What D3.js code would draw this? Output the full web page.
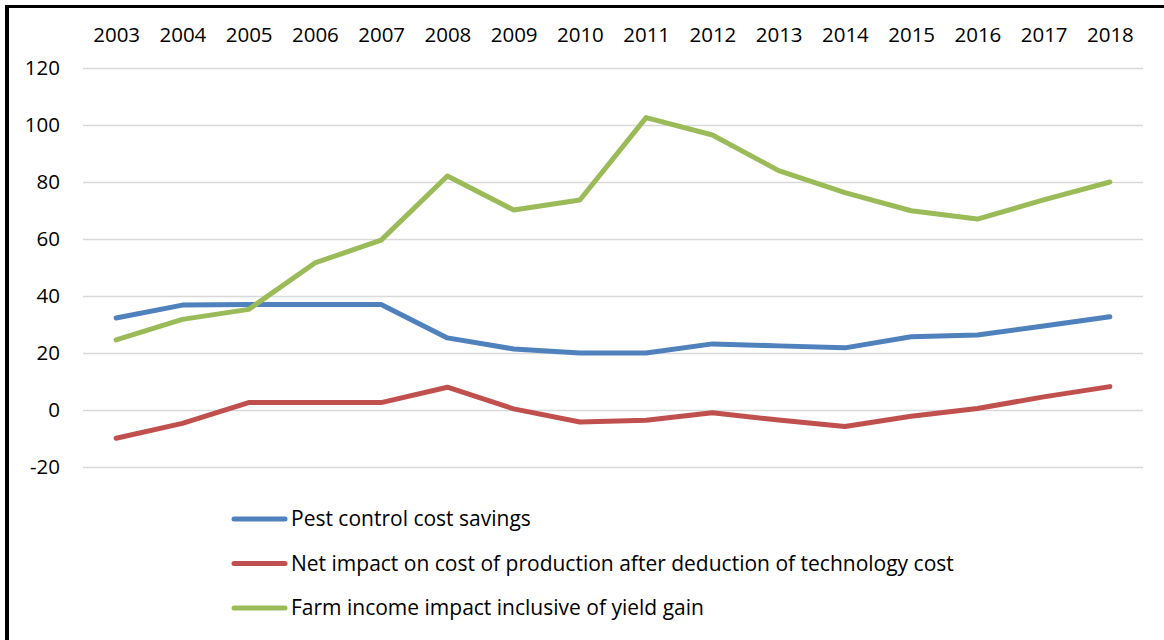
<!DOCTYPE html>
<html><head><meta charset="utf-8">
<script src="https://cdn.jsdelivr.net/npm/d3@7"></script>
<style>html,body{margin:0;padding:0;background:#fff;}svg{display:block;}</style>
</head><body>
<svg id="c" width="1164" height="640"></svg>
<script>
const years = ["2003","2004","2005","2006","2007","2008","2009","2010","2011","2012","2013","2014","2015","2016","2017","2018"];
const pestControl = [32.3, 36.8, 37, 37, 37, 25.3, 21.4, 20, 20, 23.2, 22.5, 21.8, 25.7, 26.3, 29.5, 32.7];
const netImpact = [-9.9, -4.7, 2.6, 2.6, 2.6, 8, 0.4, -4.2, -3.6, -1, -3.5, -5.8, -2.2, 0.5, 4.6, 8.2];
const farmIncome = [24.6, 31.8, 35.3, 51.6, 59.6, 82.1, 70.2, 73.7, 102.6, 96.5, 84, 76.3, 69.9, 67, 73.7, 80];
const yTicks = [-20, 0, 20, 40, 60, 80, 100, 120];
const seriesNames = ["Pest control cost savings", "Net impact on cost of production after deduction of technology cost", "Farm income impact inclusive of yield gain"];
const seriesColors = ["#4F81BD", "#C0504D", "#9BBB59"];

const svg = d3.select("#c");
const font = "'Open Sans', Lato, sans-serif";
const x = d3.scalePoint().domain(years).range([83, 1143]).padding(0.5);
const y = d3.scaleLinear().domain([-20, 120]).range([467, 68]);

// frame
svg.append("rect").attr("x", 0).attr("y", 0).attr("width", 1164).attr("height", 640).attr("fill", "#fff");
svg.append("line").attr("x1", 7).attr("x2", 7).attr("y1", 5).attr("y2", 640).attr("stroke", "#000").attr("stroke-width", 4);
svg.append("line").attr("x1", 5).attr("x2", 1164).attr("y1", 6.5).attr("y2", 6.5).attr("stroke", "#000").attr("stroke-width", 3);

// grid
const yAxis = d3.axisLeft(y).tickValues(yTicks).tickSize(-(1143 - 83)).tickFormat(d => String(d));
const gy = svg.append("g").attr("transform", "translate(83,0)").call(yAxis);
gy.select(".domain").remove();
gy.selectAll(".tick line").attr("stroke", "#d9d9d9").attr("stroke-width", 1.5);
gy.selectAll(".tick text").attr("x", -23).attr("font-family", font).attr("font-size", 20.5).attr("fill", "#000");

// top axis labels
const xAxis = d3.axisTop(x).tickSize(0);
const gx = svg.append("g").attr("transform", "translate(0,45)").call(xAxis);
gx.select(".domain").remove();
gx.selectAll(".tick text").attr("font-family", font).attr("font-size", 20.5).attr("fill", "#000").attr("dy", 0);

// lines
const line = d3.line().x((d, i) => x(years[i])).y(d => y(d));
[pestControl, netImpact, farmIncome].forEach((s, k) => {
  svg.append("path").datum(s).attr("d", line).attr("fill", "none")
    .attr("stroke", seriesColors[k]).attr("stroke-width", 5)
    .attr("stroke-linejoin", "round").attr("stroke-linecap", "round");
});

// legend
seriesNames.forEach((n, k) => {
  const yy = 519 + k * 44.5;
  svg.append("line").attr("x1", 234).attr("x2", 285).attr("y1", yy).attr("y2", yy)
    .attr("stroke", seriesColors[k]).attr("stroke-width", 5).attr("stroke-linecap", "round");
  svg.append("text").attr("x", 291).attr("y", yy).attr("dy", "0.35em")
    .attr("font-family", font).attr("font-size", 21).attr("fill", "#000").text(n);
});
</script>
</body></html>
